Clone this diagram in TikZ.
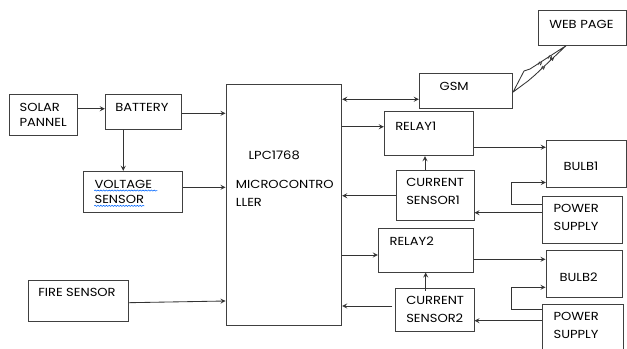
\documentclass[tikz,border=0pt]{standalone}
\usepackage{fontspec}
\setmainfont{Poppins}[FakeStretch=1.12]
\usetikzlibrary{fit,decorations.pathmorphing}

\begin{document}
\begin{tikzpicture}[>=stealth, x=0.025cm, y=-0.025cm,
  box/.style={draw=black!75, line width=0.6pt, inner sep=0, fit={#1}},
  txt/.style={anchor=west, inner sep=0, align=left, font=\fontsize{8.3}{12.8}\selectfont},
  tight/.style={font=\fontsize{8.3}{10.9}\selectfont},
  lnk/.style={->, draw=black!80, line width=0.6pt},
  wavy/.style={draw=blue!60!cyan, line width=0.4pt, decorate,
    decoration={snake, amplitude=0.4pt, segment length=2pt}}]

  \useasboundingbox (0,0) rectangle (627,349);

  % blocks
  \node[box={(9.3,94.3) (77.7,135.3)}] (sol) {};
  \node[box={(105.3,94.3) (181.7,129.3)}] (bat) {};
  \node[box={(226,84) (341.7,325.3)}] (mcu) {};
  \node[box={(83.3,171.3) (182.7,212.3)}] (volt) {};
  \node[box={(28,280.3) (128.3,321.7)}] (fire) {};
  \node[box={(538.3,10.7) (626,45.3)}] (web) {};
  \node[box={(419.3,73) (512.7,108.3)}] (gsm) {};
  \node[box={(384.3,111.7) (473.3,155.7)}] (rel1) {};
  \node[box={(546.3,140) (626,187.3)}] (bulb1) {};
  \node[box={(396,170.7) (474,220.7)}] (cs1) {};
  \node[box={(542.3,196) (622.7,243.3)}] (ps1) {};
  \node[box={(378.3,228.7) (473.3,272)}] (rel2) {};
  \node[box={(546,250) (622.7,297.3)}] (bulb2) {};
  \node[box={(395.7,288.3) (474,331.7)}] (cs2) {};
  \node[box={(542.3,304.3) (623.3,355)}] (ps2) {};

  % labels
  \node[txt, tight] (solT) at (19.3,115) {SOLAR\\PANNEL};
  \node[txt] (batT) at (115,107.3) {BATTERY};
  \node[txt] (lpcT) at (248.3,155) {LPC1768};
  \node[txt] (mcuT) at (235.7,192.9) {MICROCONTRO\\LLER};
  \node[txt] (voltA) at (94.3,184) {VOLTAGE};
  \node[txt] (voltB) at (94.3,199.3) {SENSOR};
  \node[txt] (fireT) at (38,292.7) {FIRE SENSOR};
  \node[txt] (webT) at (549,24) {WEB PAGE};
  \node[txt] (gsmT) at (439.3,86.7) {GSM};
  \node[txt] (rel1T) at (395,126) {RELAY1};
  \node[txt] (bulb1T) at (563.3,166) {BULB1};
  \node[txt] (cs1T) at (406,191.9) {CURRENT\\SENSOR1};
  \node[txt] (ps1T) at (553.3,217.7) {POWER\\SUPPLY};
  \node[txt] (rel2T) at (389.3,241.7) {RELAY2};
  \node[txt] (bulb2T) at (559.3,277.3) {BULB2};
  \node[txt] (cs2T) at (406,309.2) {CURRENT\\SENSOR2};
  \node[txt] (ps2T) at (553.3,325.8) {POWER\\SUPPLY};

  \draw[wavy] ([yshift=-1.5pt]voltA.south west) -- ++(63,0);
  \draw[wavy] ([yshift=-1.5pt]voltB.south west) -- ++(50,0);

  % links
  \draw[lnk] (sol.east |- 0,108.7) -- (bat.west |- 0,108.7);
  \draw[lnk] (bat.east |- 0,113.3) -- (mcu.west |- 0,113.3);
  \draw[lnk] (bat.south -| 123.3,0) -- (volt.north -| 123.3,0);
  \draw[lnk] (volt.east |- 0,187.3) -- (mcu.west |- 0,187.3);
  \draw[lnk] (fire.east |- 0,302.7) -- (mcu.west |- 0,301);
  \draw[lnk, <->] (mcu.east |- 0,99.3) -- (gsm.west |- 0,99.3);
  \draw[lnk] (mcu.east |- 0,126.7) -- (rel1.west |- 0,126.7);
  \draw[lnk] (rel1.east |- 0,147.3) -- (bulb1.west |- 0,147.3);
  \draw[lnk] (cs1.north -| 425,0) -- (rel1.south -| 425,0);
  \draw[lnk] (cs1.west |- 0,195.7) -- (mcu.east |- 0,195.7);
  \draw[lnk] (ps1.west |- 0,212.7) -- (cs1.east |- 0,212.7);
  \draw[lnk] (ps1.west |- 0,204.3) -- ++(-30,0) |- (bulb1.west |- 0,182.5);
  \draw[lnk] (mcu.east |- 0,255) -- (rel2.west |- 0,255);
  \draw[lnk] (rel2.east |- 0,259.3) -- (bulb2.west |- 0,259.3);
  \draw[lnk] ([yshift=-2pt]cs2.north -| 425.7,0) -- (rel2.south -| 425.7,0);
  \draw[lnk] ([xshift=-2pt]cs2.west |- 0,306) -- (mcu.east |- 0,306);
  \draw[lnk] (ps2.west |- 0,320.7) -- (cs2.east |- 0,320.7);
  \draw[lnk] (ps2.west |- 0,309.3) -- ++(-30,0) |- (bulb2.west |- 0,287.3);

  % radio link gsm - web page
  \draw[draw=black!80, line width=0.6pt] (gsm.east |- 0,92) -- (524,71) -- (530,69) -- (web.south -| 566,0)
    -- (535,75) -- (528,81) -- cycle;
  \foreach \p in {(540,63.5),(550,57.2),(543,67.8),(552,59)}
    \draw[draw=black!80, line width=0.4pt] \p ++(-2,1.5) -- ++(1.3,-3) -- ++(1.3,3) -- ++(1.3,-3);
\end{tikzpicture}
\end{document}
